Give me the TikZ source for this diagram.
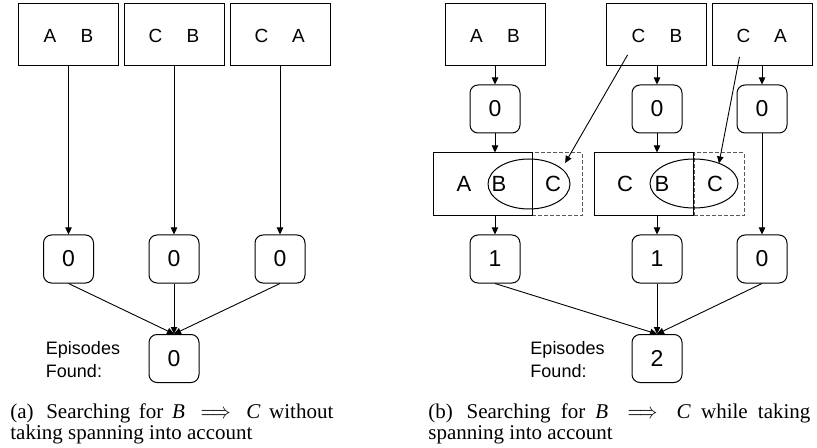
\documentclass[tikz,border=0pt]{standalone}
\usepackage{fontspec}
\usepackage{graphicx}
\setmainfont{Liberation Serif}
\newfontfamily\diagfont{Liberation Sans}
\usetikzlibrary{arrows.meta,shapes.geometric}
\tikzset{
  box/.style={draw, line width=0.5pt, minimum width=50pt, minimum height=31pt, inner sep=0pt},
  cnt/.style={draw, line width=0.5pt, rounded corners=4pt, minimum width=25pt, minimum height=24pt, inner sep=0pt, font=\diagfont\fontsize{11.5}{13}\selectfont},
  wide/.style={draw, line width=0.5pt, minimum width=49.5pt, minimum height=31.5pt, inner sep=0pt},
  dashbox/.style={draw=black!65, line width=0.5pt, dash pattern=on 2pt off 1pt, minimum width=25pt, minimum height=31.5pt, inner sep=0pt},
  oval/.style={draw, ellipse, line width=0.5pt, inner sep=0pt},
  tl/.style={inner sep=0pt, font=\diagfont\fontsize{9.5}{11}\selectfont},
  ml/.style={inner sep=0pt, font=\diagfont\fontsize{11}{13}\selectfont},
  lab/.style={inner sep=0pt, align=left, font=\diagfont\fontsize{9}{11.5}\selectfont},
  arr/.style={line width=0.45pt, -{Triangle[length=3.5pt, width=3.2pt]}},
  captext/.style={inner sep=0pt, anchor=base west, font=\fontsize{10.5}{12}\selectfont},
}
\newcommand{\impl}{\hskip 4pt plus 3pt\scalebox{0.85}[1]{$\Longrightarrow$}\hskip 4pt plus 3pt}
\begin{document}
\begin{tikzpicture}[x=0.5pt, y=-0.5pt]
\useasboundingbox (0,0) rectangle (817,448);
% ---------------- left panel ----------------
\node[box] (la) at (68.5,35) {};
\node[box] (lb) at (174,35) {};
\node[box] (lc) at (280,35) {};
\node[tl] (la1) at (50,36) {A};
\node[tl] (la2) at (87,36) {B};
\node[tl] (lb1) at (155.5,36) {C};
\node[tl] (lb2) at (193,36) {B};
\node[tl] (lc1) at (261.5,36) {C};
\node[tl] (lc2) at (298.5,36) {A};
\node[cnt] (lna) at (68.5,259) {0};
\node[cnt] (lnb) at (174,259) {0};
\node[cnt] (lnc) at (280,259) {0};
\node[cnt] (lsum) at (174,358.5) {0};
\node[lab] (lep) at (83,360) {Episodes\\Found:};
\draw[arr] (la) -- (lna);
\draw[arr] (lb) -- (lnb);
\draw[arr] (lc) -- (lnc);
\draw[arr] (lna.south) -- (lsum.north);
\draw[arr] (lnb.south) -- (lsum.north);
\draw[arr] (lnc.south) -- (lsum.north);
% ---------------- right panel ----------------
\node[box] (ra) at (495,35) {};
\node[box] (rb) at (656.5,35) {};
\node[box] (rc) at (762,35) {};
\node[tl] (ra1) at (476.5,36) {A};
\node[tl] (ra2) at (513.5,36) {B};
\node[tl] (rb1) at (638.5,36) {C};
\node[tl] (rb2) at (676,36) {B};
\node[tl] (rc1) at (743.5,36) {C};
\node[tl] (rc2) at (780.5,36) {A};
\node[cnt] (rma) at (495,109) {0};
\node[cnt] (rmb) at (657,109) {0};
\node[cnt] (rmc) at (762,109) {0};
% spanning windows
\node[dashbox] (d1) at (557,184.5) {};
\node[wide] (w1) at (482.5,184.5) {};
\node[oval, minimum width=41pt, minimum height=25pt] (e1) at (529,184) {};
\node[dashbox] (d2) at (719,184.5) {};
\node[wide] (w2) at (644,184.5) {};
\node[oval, minimum width=44pt, minimum height=24.5pt] (e2) at (694,183.5) {};
\node[ml] (w1a) at (464,184) {A};
\node[ml] (w1b) at (499,184) {B};
\node[ml] (w1c) at (553,184) {C};
\node[ml] (w2c) at (625,184) {C};
\node[ml] (w2b) at (662,184) {B};
\node[ml] (w2d) at (715,184) {C};
\node[cnt] (rna) at (495,259) {1};
\node[cnt] (rnb) at (657,259) {1};
\node[cnt] (rnc) at (762,259) {0};
\node[cnt] (rsum) at (657,358.5) {2};
\node[lab] (rep) at (567.5,360) {Episodes\\Found:};
\draw[arr] (ra) -- (rma);
\draw[arr] (rb.south -| rmb) -- (rmb);
\draw[arr] (rc) -- (rmc);
\draw[arr] (rma) -- (w1.north -| rma);
\draw[arr] (rmb) -- (w2.north -| rmb);
\draw[arr] (w1.south -| rna) -- (rna);
\draw[arr] (w2.south -| rnb) -- (rnb);
\draw[arr] (rmc) -- (rnc);
\draw[arr, shorten <=6.8pt, shorten >=7.4pt] (rb1) -- (w1c);
\draw[arr, shorten <=7pt, shorten >=6.3pt] (rc1) -- (w2d);
\draw[arr] (rna.south) -- (rsum.north);
\draw[arr] (rnb.south) -- (rsum.north);
\draw[arr] (rnc.south) -- (rsum.north);
% ---------------- captions ----------------
\node[captext] (capa1) at (10,418) {\makebox[161.5pt][s]{(a)\hskip 5pt plus 1pt Searching for \textit{B}\impl\textit{C} without}};
\node[captext] (capa2) at (10,439) {taking spanning into account};
\node[captext] (capb1) at (428,418) {\makebox[191pt][s]{(b)\hskip 5pt plus 1pt Searching for \textit{B}\impl\textit{C} while taking}};
\node[captext] (capb2) at (428,439) {spanning into account};
\end{tikzpicture}
\end{document}
